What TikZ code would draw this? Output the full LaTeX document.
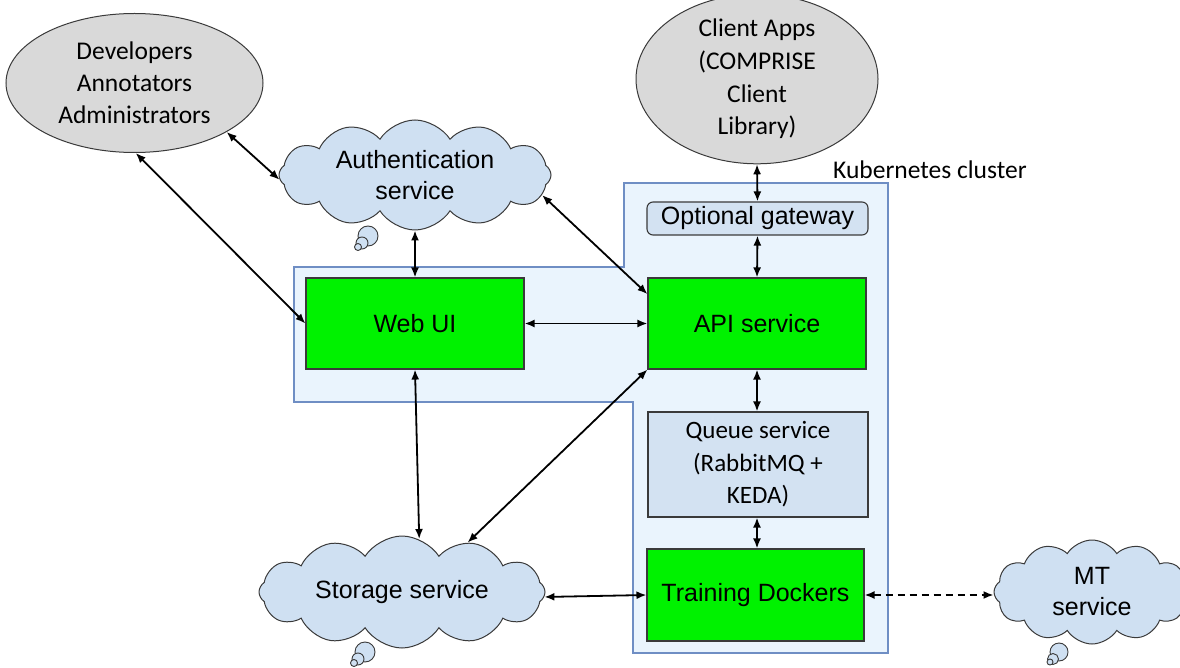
\documentclass[tikz,border=0pt]{standalone}
\usepackage{fontspec}
\setmainfont{Carlito}
\newfontfamily\arialfont{Liberation Sans}
\usetikzlibrary{shapes.geometric,shapes.symbols,arrows.meta,calc}
\definecolor{cloudfill}{HTML}{CFE0F2}
\definecolor{clusterfill}{HTML}{EAF4FD}
\definecolor{clusterdraw}{HTML}{6F8EC4}
\definecolor{grayfill}{HTML}{D9D9D9}
\definecolor{boxblue}{HTML}{D3E2F2}
\definecolor{green1}{HTML}{00F200}
\definecolor{edge}{HTML}{3A3A3A}
\tikzset{
  conn/.style={line width=1.8pt, {Latex[length=10pt,width=8pt]}-{Latex[length=10pt,width=8pt]}},
  actor/.style={ellipse, draw=edge, line width=1pt, fill=grayfill, inner sep=0pt, align=center, font=\fontsize{25.5}{32}\selectfont},
  cloudnode/.style={cloud, cloud puffs=12, cloud puff arc=115, cloud ignores aspect, draw=edge, line width=1pt, fill=cloudfill, inner sep=0pt, align=center, font=\arialfont\fontsize{25}{31}\selectfont},
  bubble/.style={draw=edge, line width=0.9pt, fill=cloudfill},
  greenbox/.style={rectangle, draw=edge, line width=1.1pt, fill=green1, inner sep=0pt, align=center, font=\arialfont\fontsize{25}{30}\selectfont},
  bluebox/.style={rectangle, draw=edge, line width=1.1pt, fill=boxblue, inner sep=0pt, align=center},
}
\begin{document}
\begin{tikzpicture}[x=1pt,y=-1pt]
\useasboundingbox (0,0) rectangle (1180,668);
% cluster region
\draw[clusterdraw, line width=1.1pt, fill=clusterfill]
  (624,183) -- (888,183) -- (888,653) -- (633,653) -- (633,402) -- (294,402) -- (294,267) -- (624,267) -- cycle;
\node[anchor=base west, font=\fontsize{25.5}{30}\selectfont, inner sep=0pt] (k8s) at (833,179) {Kubernetes cluster};

% actors
\node[actor, minimum width=257pt, minimum height=139pt] (dev) at (134.5,83) {Developers\\Annotators\\Administrators};
\node[actor, minimum width=242pt, minimum height=154pt, font=\fontsize{25.5}{32.7}\selectfont] (client) at (757,79) {Client Apps\\(COMPRISE\\Client\\Library)};

% clouds
\node[cloudnode, minimum width=272pt, minimum height=110pt] (auth) at (415,175) {Authentication\\service};
\draw[bubble] (368,236) circle[radius=10pt];
\draw[bubble] (362,243) circle[radius=6pt];
\draw[bubble] (358,247) circle[radius=3.5pt];

\node[cloudnode, minimum width=286pt, minimum height=112pt] (storage) at (402,592) {Storage service};
\draw[bubble] (365,652) circle[radius=10pt];
\draw[bubble] (358,659) circle[radius=6pt];
\draw[bubble] (354,663) circle[radius=3.5pt];

\node[cloudnode, minimum width=196pt, minimum height=104pt] (mt) at (1092,592) {MT\\service};
\draw[bubble] (1059,652) circle[radius=9pt];
\draw[bubble] (1053,659) circle[radius=5.5pt];
\draw[bubble] (1050,662) circle[radius=3pt];

% boxes
\node[bluebox, rounded corners=6pt, minimum width=221pt, minimum height=33pt, font=\arialfont\fontsize{25}{28}\selectfont] (gw) at (757.5,218.5) {Optional gateway};
\node[greenbox, minimum width=218pt, minimum height=91pt] (web) at (415,323.5) {Web UI};
\node[greenbox, minimum width=218pt, minimum height=91pt] (api) at (757,323.5) {API service};
\node[bluebox, minimum width=220pt, minimum height=105pt, font=\fontsize{25}{32.5}\selectfont] (queue) at (758,464.5) {Queue service\\(RabbitMQ +\\KEDA)};
\node[greenbox, minimum width=217pt, minimum height=92pt] (train) at (755.5,595) {Training Dockers};

% connectors
\draw[conn] (dev.-28) -- (auth.182);
\draw[conn] (dev.-89) -- (web.west);
\draw[conn] (auth.south) -- (web.north);
\draw[conn] (auth.-9) -- (api.165);
\draw[conn] (client.south) -- (gw.north);
\draw[conn] (gw.south) -- (api.north);
\draw[conn] (web.east) -- (api.west);
\draw[conn] (api.south) -- (queue.north -| api.south);
\draw[conn] (queue.south -| api.south) -- (train.north -| api.south);
\draw[conn] (web.south) -- (storage.72);
\draw[conn] (api.south west) -- (storage.37);
\draw[conn] (storage.-2) -- (train.west);
\draw[conn, dash pattern=on 7pt off 5pt] (train.east) -- (mt.west |- train.east);
\end{tikzpicture}
\end{document}
